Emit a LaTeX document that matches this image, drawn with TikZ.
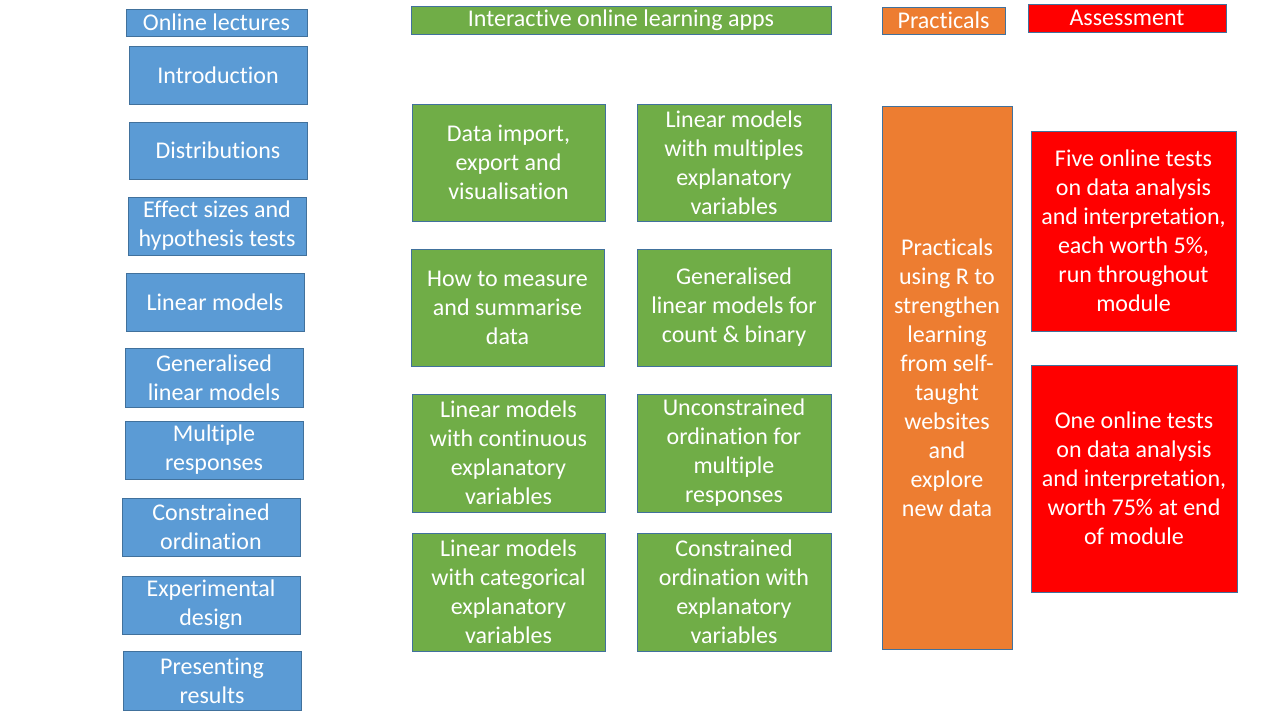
\documentclass[tikz,border=0pt]{standalone}
\usepackage{fontspec}
\setmainfont[Ligatures=NoCommon]{Carlito}
\begin{document}
\begin{tikzpicture}[x=1pt,y=-1pt,
  box/.style={draw=edgeblue,line width=1pt,text=white,align=center,inner sep=0pt,
    font=\fontsize{24}{29}\selectfont},
  lecture/.style={box,fill=lecblue},
  app/.style={box,fill=appgreen},
  prac/.style={box,fill=pracorange},
  assess/.style={box,fill=assessred}]
\definecolor{edgeblue}{HTML}{41719C}
\definecolor{lecblue}{HTML}{5B9BD5}
\definecolor{appgreen}{HTML}{70AD47}
\definecolor{pracorange}{HTML}{ED7D31}
\definecolor{assessred}{HTML}{FF0000}
\useasboundingbox[fill=white] (0,0) rectangle (1280,720);
% \bx{name}{style}{left}{top}{right}{bottom}{text}
\newcommand{\bx}[7]{%
  \node[#2,minimum width={(#5-#3)*1pt},minimum height={(#6-#4)*1pt}]
    (#1) at ({(#3+#5)/2},{(#4+#6)/2}) {#7};}
% lectures column
\bx{lh}{lecture}{126}{9}{307}{36}{Online lectures}
\bx{l1}{lecture}{129}{46}{307}{104}{Introduction}
\bx{l2}{lecture}{129}{122}{307}{179}{Distributions}
\bx{l3}{lecture}{128}{197}{306}{255}{Effect sizes and\\hypothesis tests}
\bx{l4}{lecture}{126}{273}{304}{331}{Linear models}
\bx{l5}{lecture}{125}{348}{303}{407}{Generalised\\linear models}
\bx{l6}{lecture}{125}{421}{303}{479}{Multiple\\responses}
\bx{l7}{lecture}{122}{498}{300}{556}{Constrained\\ordination}
\bx{l8}{lecture}{122}{576}{300}{634}{Experimental\\design}
\bx{l9}{lecture}{123}{651}{301}{710}{Presenting\\results}
% interactive apps
\bx{ah}{app}{411}{6}{831}{34}{Interactive online learning apps}
\bx{a1}{app}{412}{104}{605}{221}{Data import,\\export and\\visualisation}
\bx{a2}{app}{637}{104}{831}{221}{Linear models\\with multiples\\explanatory\\variables}
\bx{a3}{app}{411}{249}{604}{366}{How to measure\\and summarise\\data}
\bx{a4}{app}{637}{249}{831}{366}{Generalised\\linear models for\\count \& binary}
\bx{a5}{app}{412}{394}{605}{512}{Linear models\\with continuous\\explanatory\\variables}
\bx{a6}{app}{637}{394}{831}{512}{Unconstrained\\ordination for\\multiple\\responses}
\bx{a7}{app}{412}{533}{605}{651}{Linear models\\with categorical\\explanatory\\variables}
\bx{a8}{app}{637}{533}{831}{651}{Constrained\\ordination with\\explanatory\\variables}
% practicals
\bx{ph}{prac}{882}{7}{1005}{34}{Practicals}
\bx{p1}{prac}{882}{106}{1012}{649}{Practicals\\using R to\\strengthen\\learning\\from self-\\taught\\websites\\and\\explore\\new data}
% assessment
\bx{sh}{assess}{1028}{4}{1226}{32}{Assessment}
\bx{s1}{assess}{1031}{131}{1236}{331}{Five online tests\\on data analysis\\and interpretation,\\each worth 5\%,\\run throughout\\module}
\bx{s2}{assess}{1031}{365}{1237}{592}{One online tests\\on data analysis\\and interpretation,\\worth 75\% at end\\of module}
\end{tikzpicture}
\end{document}
